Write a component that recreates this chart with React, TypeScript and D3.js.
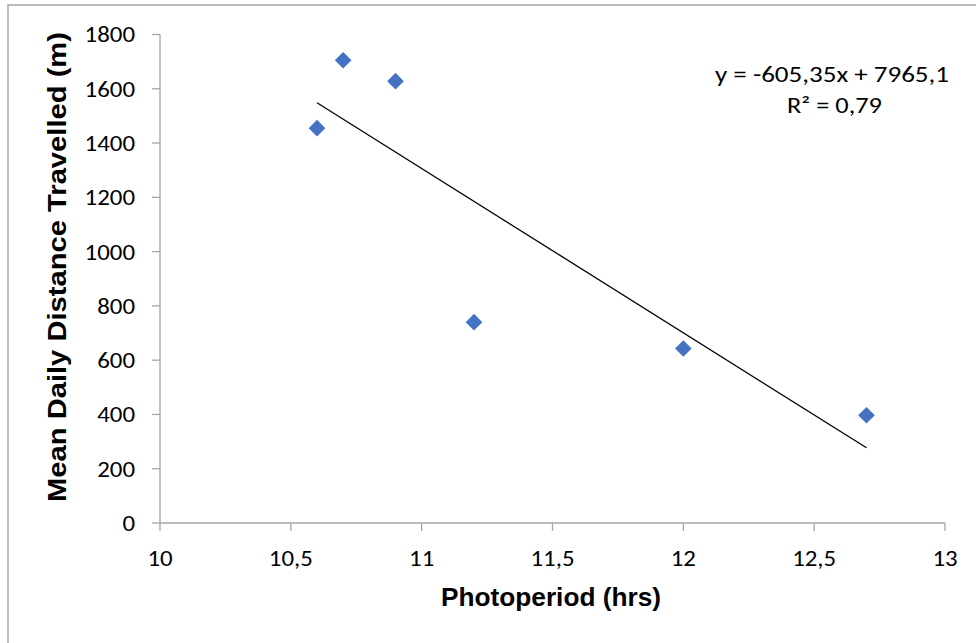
import React from "react";
import * as d3 from "d3";

const photoperiod = [10.6, 10.7, 10.9, 11.2, 12.0, 12.7];
const distance = [1455, 1705, 1628, 740, 643, 397];
const xTicks = [10, 10.5, 11, 11.5, 12, 12.5, 13];
const yTicks = [0, 200, 400, 600, 800, 1000, 1200, 1400, 1600, 1800];
const slope = -605.35;
const intercept = 7965.1;
const eqLabel = "y = -605,35x + 7965,1";
const r2Label = "R² = 0,79";
const xTitle = "Photoperiod (hrs)";
const yTitle = "Mean Daily Distance Travelled (m)";

const W = 976;
const H = 643;
const tickFont = "Carlito, Calibri, Lato, sans-serif";
const titleFont = "'Liberation Sans', Arial, sans-serif";

export default function App() {
  const x = d3.scaleLinear().domain([10, 13]).range([160, 945]);
  const y = d3.scaleLinear().domain([0, 1800]).range([523, 34.5]);
  const fmt = (v: number) => String(v).replace(".", ",");
  const x0 = d3.min(photoperiod)!;
  const x1 = d3.max(photoperiod)!;
  const trend = d3.line<number>()
    .x((d) => x(d))
    .y((d) => y(slope * d + intercept));
  const diamond = d3.symbol().type(d3.symbolSquare).size(138)();
  const axisColor = "#a6a6a6";
  const sx = 1.13;
  return (
    <svg width={W} height={H} style={{ position: "absolute", left: 0, top: 0 }}>
      <rect x={0} y={0} width={W} height={H} fill="#fff" />
      <rect x={8} y={5} width={W + 20} height={H + 20} fill="none" stroke="#a6a6a6" strokeWidth={1.5} />
      {/* y axis */}
      <line x1={x(10)} x2={x(10)} y1={y(0)} y2={y(1800)} stroke={axisColor} strokeWidth={1.3} />
      {yTicks.map((t) => (
        <g key={"y" + t}>
          <line x1={x(10) - 8} x2={x(10)} y1={y(t)} y2={y(t)} stroke={axisColor} strokeWidth={1.3} />
          <text
            transform={`translate(135,${y(t)}) scale(${sx},1)`}
            dy="0.36em"
            textAnchor="end"
            fontFamily={tickFont}
            fontSize={22}
            fill="#000"
          >
            {t}
          </text>
        </g>
      ))}
      {/* x axis */}
      <line x1={x(10)} x2={x(13)} y1={y(0)} y2={y(0)} stroke={axisColor} strokeWidth={1.3} />
      {xTicks.map((t) => (
        <g key={"x" + t}>
          <line x1={x(t)} x2={x(t)} y1={y(0)} y2={y(0) + 8} stroke={axisColor} strokeWidth={1.3} />
          <text
            transform={`translate(${x(t)},566) scale(${sx},1)`}
            textAnchor="middle"
            fontFamily={tickFont}
            fontSize={22}
            fill="#000"
          >
            {fmt(t)}
          </text>
        </g>
      ))}
      {/* trendline */}
      <path d={trend([x0, x1]) || ""} fill="none" stroke="#000" strokeWidth={1.3} />
      {/* points */}
      {photoperiod.map((p, i) => (
        <path
          key={"p" + i}
          d={diamond || ""}
          transform={`translate(${x(p)},${y(distance[i])}) rotate(45)`}
          fill="#4472C4"
        />
      ))}
      {/* equation */}
      <text x={715} y={82} textLength={234} lengthAdjust="spacingAndGlyphs" fontFamily={tickFont} fontSize={22} fill="#000">
        {eqLabel}
      </text>
      <text x={787} y={113} textLength={95} lengthAdjust="spacingAndGlyphs" fontFamily={tickFont} fontSize={22} fill="#000">
        {r2Label}
      </text>
      {/* titles */}
      <text x={441} y={606} textLength={220} lengthAdjust="spacingAndGlyphs" fontFamily={titleFont} fontWeight="bold" fontSize={26} fill="#000">
        {xTitle}
      </text>
      <text
        transform={`translate(66,502) rotate(-90)`}
        textLength={470}
        lengthAdjust="spacingAndGlyphs"
        fontFamily={titleFont}
        fontWeight="bold"
        fontSize={25}
        fill="#000"
      >
        {yTitle}
      </text>
    </svg>
  );
}
